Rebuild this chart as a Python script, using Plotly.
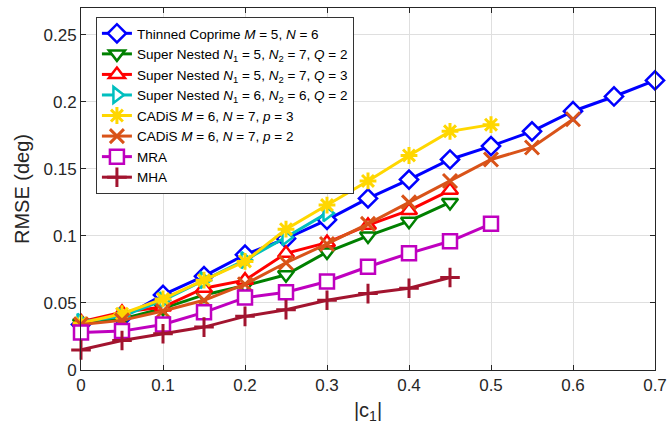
import plotly.graph_objects as go

x_all = [0, 0.05, 0.1, 0.15, 0.2, 0.25, 0.3, 0.35, 0.4, 0.45, 0.5, 0.55, 0.6, 0.65, 0.7]

thinned_coprime = [0.034, 0.039, 0.056, 0.070, 0.086, 0.098, 0.112, 0.128, 0.142, 0.157, 0.167, 0.178, 0.193, 0.204, 0.216]
super_nested_572 = [0.035, 0.038, 0.046, 0.056, 0.063, 0.071, 0.088, 0.100, 0.111, 0.125]
super_nested_573 = [0.036, 0.043, 0.047, 0.061, 0.067, 0.087, 0.095, 0.108, 0.119, 0.134]
super_nested_662 = [0.036, 0.040, 0.052, 0.067, 0.082, 0.099, 0.117]
cadis_p3 = [0.035, 0.042, 0.053, 0.067, 0.081, 0.105, 0.123, 0.141, 0.160, 0.178, 0.183]
cadis_p2 = [0.034, 0.037, 0.044, 0.052, 0.064, 0.080, 0.094, 0.109, 0.125, 0.141, 0.157, 0.166, 0.187]
mra = [0.028, 0.029, 0.034, 0.043, 0.054, 0.058, 0.066, 0.077, 0.087, 0.096, 0.109]
mha = [0.015, 0.022, 0.027, 0.032, 0.040, 0.045, 0.052, 0.057, 0.061, 0.069]

series = [
    ("Thinned Coprime <i>M</i> = 5, <i>N</i> = 6", thinned_coprime, "#0000FF", "diamond"),
    ("Super Nested <i>N</i><sub>1</sub> = 5, <i>N</i><sub>2</sub> = 7, <i>Q</i> = 2", super_nested_572, "#008000", "triangle-down"),
    ("Super Nested <i>N</i><sub>1</sub> = 5, <i>N</i><sub>2</sub> = 7, <i>Q</i> = 3", super_nested_573, "#FF0000", "triangle-up"),
    ("Super Nested <i>N</i><sub>1</sub> = 6, <i>N</i><sub>2</sub> = 6, <i>Q</i> = 2", super_nested_662, "#00BFBF", "triangle-right"),
    ("CADiS <i>M</i> = 6, <i>N</i> = 7, <i>p</i> = 3", cadis_p3, "#FFD700", "asterisk-open"),
    ("CADiS <i>M</i> = 6, <i>N</i> = 7, <i>p</i> = 2", cadis_p2, "#D95319", "x-thin-open"),
    ("MRA", mra, "#BF00BF", "square"),
    ("MHA", mha, "#A2142F", "cross-thin-open"),
]

fig = go.Figure()
for i, (name, vals, color, sym) in enumerate(series):
    open_shape = sym in ("diamond", "triangle-down", "triangle-up", "triangle-right", "square")
    fig.add_trace(go.Scatter(
        x=x_all[:len(vals)], y=vals, name=name, mode="lines+markers",
        legendgroup=f"g{i}", cliponaxis=False,
        line=dict(color=color, width=3),
        marker=dict(symbol=sym, size=14,
                    color="white" if open_shape else color,
                    line=dict(color=color, width=2.5 if open_shape else 3)),
    ))

fig.update_layout(
    width=668, height=437,
    margin=dict(l=81, r=13, t=8, b=67),
    plot_bgcolor="white", paper_bgcolor="white",
    font=dict(family="Liberation Sans, Arial, sans-serif", color="#262626", size=17),
    legend=dict(x=0.026, y=0.975, xanchor="left", yanchor="top",
                bgcolor="white", bordercolor="#333333", borderwidth=1,
                font=dict(size=13.5, color="#000000"), tracegroupgap=0,
                itemwidth=30),
    showlegend=True,
)
fig.update_xaxes(range=[0, 0.7], dtick=0.1, tick0=0, showgrid=True, gridcolor="#DFDFDF",
                 showline=True, linecolor="#262626", linewidth=1, mirror="ticks",
                 ticks="inside", ticklen=5, tickcolor="#262626", zeroline=False,
                 automargin=False,
                 title=dict(text="|c<sub>1</sub>|", font=dict(size=20), standoff=8))
fig.update_yaxes(range=[0, 0.27], dtick=0.05, tick0=0, showgrid=True, gridcolor="#DFDFDF",
                 showline=True, linecolor="#262626", linewidth=1, mirror="ticks",
                 ticks="inside", ticklen=5, tickcolor="#262626", zeroline=False,
                 automargin=False,
                 title=dict(text="RMSE (deg)", font=dict(size=20), standoff=8))

fig.write_html("out.html")
